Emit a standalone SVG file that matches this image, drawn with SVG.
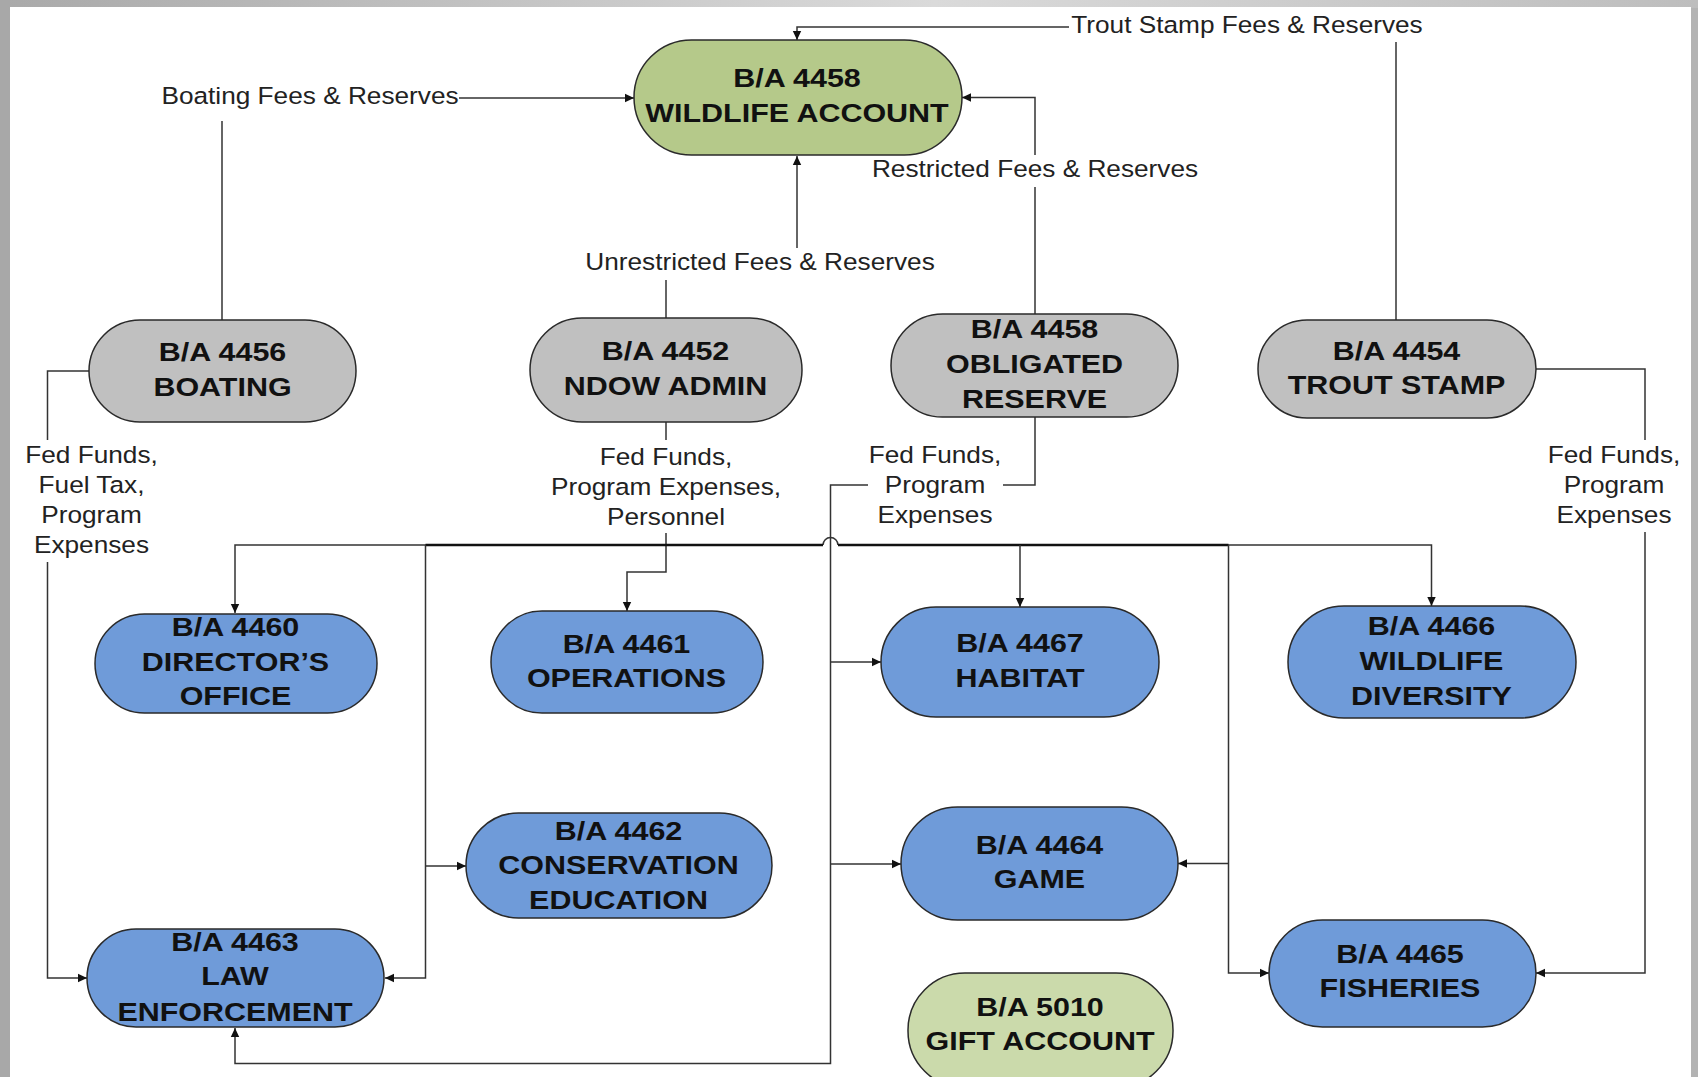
<svg xmlns="http://www.w3.org/2000/svg" width="1698" height="1077" viewBox="0 0 1698 1077">
<defs>
<linearGradient id="topband" x1="0" y1="0" x2="1" y2="0">
<stop offset="0" stop-color="#a9a9a9"/>
<stop offset="0.55" stop-color="#dadada"/>
<stop offset="1" stop-color="#bdbdbd"/>
</linearGradient>
<marker id="ah" markerWidth="10" markerHeight="10" refX="9" refY="5" orient="auto" markerUnits="userSpaceOnUse">
<path d="M0,0.8 L9,5 L0,9.2 z" fill="#111"/>
</marker>
<style>
.node rect{stroke:#2a2a2a;stroke-width:1.5}
.green rect{fill:#b5c98a}
.gray rect{fill:#c0c0c0}
.blue rect{fill:#6f9bd9}
.lgreen rect{fill:#cbdaab}
.nt{font-family:"Liberation Sans",Arial,sans-serif;font-weight:bold;font-size:26.5px;fill:#111;text-anchor:middle}
.lb{font-family:"Liberation Sans",Arial,sans-serif;font-size:24.5px;fill:#222;text-anchor:middle}
#connectors path{fill:none;stroke:#333;stroke-width:1.5}
#connectors .arr{marker-end:url(#ah)}
#connectors .thick{stroke:#111;stroke-width:2.6}
</style>
</defs>
<rect x="0" y="0" width="1698" height="1077" fill="#b3b3b3"/>
<rect x="0" y="0" width="1698" height="8" fill="url(#topband)"/>
<rect x="0" y="0" width="10" height="1077" fill="#a8a8a8"/>
<rect x="10" y="7" width="1681" height="1070" fill="#ffffff"/>

<g id="connectors">
<path d="M222,320 V121"/>
<path class="arr" d="M459,98 H634"/>
<path d="M1396,320 V42"/>
<path class="arr" d="M1069,27 H797 V40"/>
<path d="M666,318 V280"/>
<path class="arr" d="M797,248 V156"/>
<path d="M1035,314 V187"/>
<path class="arr" d="M1035,155 V97.5 H962"/>
<path d="M1536,369 H1645 V440"/>
<path class="arr" d="M1645,532 V973 H1536"/>
<path d="M89,371 H47.5 V440"/>
<path class="arr" d="M47.5,562 V978 H87"/>
<path d="M666,422 V440"/>
<path class="arr" d="M666,533 V572 H627 V611"/>
<path d="M1035,417 V485 H1003"/>
<path class="arr" d="M868,485 H830.5 V1063.5 H235 V1028"/>
<path class="arr" d="M830.5,662 H881"/>
<path class="arr" d="M830.5,864 H901"/>
<path class="arr" d="M823,545 H235 V613"/>
<path class="arr" d="M838,545 H1431.5 V606"/>
<path d="M823,545 A7.5,7.5 0 0 1 838,545"/>
<path class="thick" d="M425.5,545 H823 M838,545 H1228.5"/>
<path class="arr" d="M425.5,545 V978 H385"/>
<path class="arr" d="M425.5,866 H466"/>
<path class="arr" d="M1020,545 V607"/>
<path class="arr" d="M1228.5,545 V973 H1269"/>
<path class="arr" d="M1228.5,863.5 H1178"/>
</g>

<g id="labels">
<text class="lb" transform="translate(310 0) scale(1.07 1)"><tspan x="0" y="104">Boating Fees &amp; Reserves</tspan></text>
<text class="lb" transform="translate(1247 0) scale(1.07 1)"><tspan x="0" y="33">Trout Stamp Fees &amp; Reserves</tspan></text>
<text class="lb" transform="translate(760 0) scale(1.07 1)"><tspan x="0" y="270">Unrestricted Fees &amp; Reserves</tspan></text>
<text class="lb" transform="translate(1035 0) scale(1.07 1)"><tspan x="0" y="177">Restricted Fees &amp; Reserves</tspan></text>
<text class="lb" transform="translate(91.5 0) scale(1.07 1)"><tspan x="0" y="463.5">Fed Funds,</tspan><tspan x="0" y="493">Fuel Tax,</tspan><tspan x="0" y="523.5">Program</tspan><tspan x="0" y="553">Expenses</tspan></text>
<text class="lb" transform="translate(666 0) scale(1.07 1)"><tspan x="0" y="465">Fed Funds,</tspan><tspan x="0" y="495.5">Program Expenses,</tspan><tspan x="0" y="525.5">Personnel</tspan></text>
<text class="lb" transform="translate(935 0) scale(1.07 1)"><tspan x="0" y="463.5">Fed Funds,</tspan><tspan x="0" y="493.5">Program</tspan><tspan x="0" y="523">Expenses</tspan></text>
<text class="lb" transform="translate(1614 0) scale(1.07 1)"><tspan x="0" y="463.5">Fed Funds,</tspan><tspan x="0" y="493.5">Program</tspan><tspan x="0" y="523">Expenses</tspan></text>
</g>

<g id="n4458w" class="node green">
<rect x="634" y="40" width="328" height="115" rx="57.5"/>
<text class="nt" transform="translate(797 0) scale(1.15 1)"><tspan x="0" y="87">B/A 4458</tspan><tspan x="0" y="122.5">WILDLIFE ACCOUNT</tspan></text>
</g>
<g id="n4456" class="node gray">
<rect x="89" y="320" width="267" height="102" rx="51"/>
<text class="nt" transform="translate(222.5 0) scale(1.15 1)"><tspan x="0" y="361">B/A 4456</tspan><tspan x="0" y="396">BOATING</tspan></text>
</g>
<g id="n4452" class="node gray">
<rect x="530" y="318" width="272" height="104" rx="52"/>
<text class="nt" transform="translate(665.5 0) scale(1.15 1)"><tspan x="0" y="360">B/A 4452</tspan><tspan x="0" y="395">NDOW ADMIN</tspan></text>
</g>
<g id="n4458o" class="node gray">
<rect x="891" y="314" width="287" height="103" rx="51.5"/>
<text class="nt" transform="translate(1034.5 0) scale(1.15 1)"><tspan x="0" y="338">B/A 4458</tspan><tspan x="0" y="373">OBLIGATED</tspan><tspan x="0" y="408">RESERVE</tspan></text>
</g>
<g id="n4454" class="node gray">
<rect x="1258" y="320" width="278" height="98" rx="49"/>
<text class="nt" transform="translate(1396.5 0) scale(1.15 1)"><tspan x="0" y="360">B/A 4454</tspan><tspan x="0" y="394.5">TROUT STAMP</tspan></text>
</g>
<g id="n4460" class="node blue">
<rect x="95" y="614" width="282" height="99" rx="49.5"/>
<text class="nt" transform="translate(235.5 0) scale(1.15 1)"><tspan x="0" y="636">B/A 4460</tspan><tspan x="0" y="671">DIRECTOR’S</tspan><tspan x="0" y="705.5">OFFICE</tspan></text>
</g>
<g id="n4461" class="node blue">
<rect x="491" y="611" width="272" height="102" rx="51"/>
<text class="nt" transform="translate(626.5 0) scale(1.15 1)"><tspan x="0" y="653">B/A 4461</tspan><tspan x="0" y="687.5">OPERATIONS</tspan></text>
</g>
<g id="n4467" class="node blue">
<rect x="881" y="607" width="278" height="110" rx="55"/>
<text class="nt" transform="translate(1020 0) scale(1.15 1)"><tspan x="0" y="652.5">B/A 4467</tspan><tspan x="0" y="687.5">HABITAT</tspan></text>
</g>
<g id="n4466" class="node blue">
<rect x="1288" y="606" width="288" height="112" rx="56"/>
<text class="nt" transform="translate(1431.5 0) scale(1.15 1)"><tspan x="0" y="635">B/A 4466</tspan><tspan x="0" y="670">WILDLIFE</tspan><tspan x="0" y="705">DIVERSITY</tspan></text>
</g>
<g id="n4462" class="node blue">
<rect x="466" y="813" width="306" height="105" rx="52.5"/>
<text class="nt" transform="translate(618.5 0) scale(1.15 1)"><tspan x="0" y="840">B/A 4462</tspan><tspan x="0" y="874.5">CONSERVATION</tspan><tspan x="0" y="909">EDUCATION</tspan></text>
</g>
<g id="n4464" class="node blue">
<rect x="901" y="807" width="277" height="113" rx="56.5"/>
<text class="nt" transform="translate(1039.5 0) scale(1.15 1)"><tspan x="0" y="854">B/A 4464</tspan><tspan x="0" y="888.5">GAME</tspan></text>
</g>
<g id="n4463" class="node blue">
<rect x="87" y="929" width="297" height="98" rx="49"/>
<text class="nt" transform="translate(235 0) scale(1.15 1)"><tspan x="0" y="951">B/A 4463</tspan><tspan x="0" y="985.5">LAW</tspan><tspan x="0" y="1021">ENFORCEMENT</tspan></text>
</g>
<g id="n4465" class="node blue">
<rect x="1269" y="920" width="267" height="107" rx="53.5"/>
<text class="nt" transform="translate(1400 0) scale(1.15 1)"><tspan x="0" y="963">B/A 4465</tspan><tspan x="0" y="997.5">FISHERIES</tspan></text>
</g>
<g id="n5010" class="node lgreen">
<rect x="908" y="973" width="265" height="115" rx="57"/>
<text class="nt" transform="translate(1040 0) scale(1.15 1)"><tspan x="0" y="1016">B/A 5010</tspan><tspan x="0" y="1050.5">GIFT ACCOUNT</tspan></text>
</g>
</svg>
